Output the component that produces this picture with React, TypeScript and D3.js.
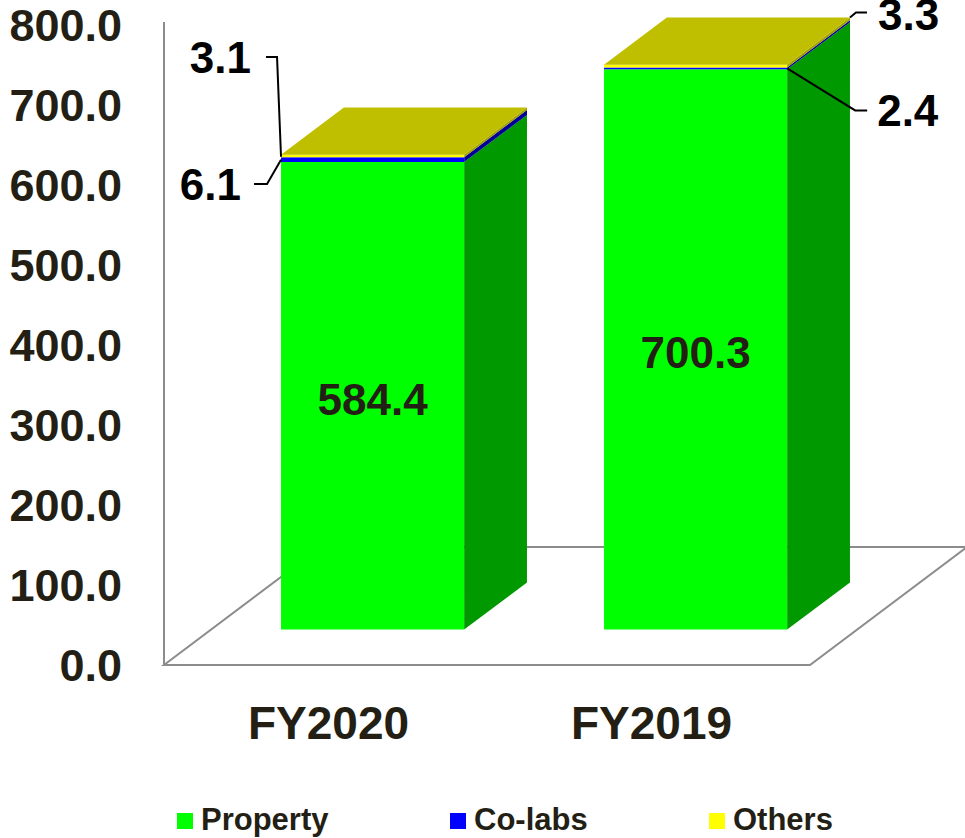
import React from "react";
import * as d3 from "d3";

const categories = ["FY2020", "FY2019"];
const seriesNames = ["Property", "Co-labs", "Others"];
const property = [584.4, 700.3];
const colabs = [6.1, 2.4];
const others = [3.1, 3.3];
const yTicks = [0, 100, 200, 300, 400, 500, 600, 700, 800];

const W = 965;
const H = 838;
const FONT = "Arial, 'Liberation Sans', Helvetica, sans-serif";
const TXT = "#231f14";

const frontColors = ["#00ff00", "#0000ff", "#ffff00"];
const sideColors = ["#009900", "#000099", "#a0a000"];
const topColor = "#bfbf00";

export default function App() {
  const rows = categories.map((c, i) => ({
    cat: c,
    Property: property[i],
    "Co-labs": colabs[i],
    Others: others[i],
  }));
  const stack = d3.stack<any>().keys(seriesNames)(rows);

  // axis / floor geometry
  const floorLeft = 164;
  const floorRight = 810;
  const y = d3.scaleLinear().domain([0, 800]).range([665, 25]);
  const floorDx = 157;
  const floorDy = -118;
  const frontFrac = 0.3;
  const barFrac = 0.4;
  const fdx = floorDx * frontFrac;
  const fdy = floorDy * frontFrac;
  const bdx = floorDx * barFrac;
  const bdy = floorDy * barFrac;

  const x = d3
    .scaleBand()
    .domain(categories)
    .range([floorLeft, floorRight])
    .paddingInner(0.433)
    .paddingOuter(0.2165);

  const yF = (v: number) => y(v) + fdy;
  const bx0 = (c: string) => (x(c) as number) + fdx;
  const bx1 = (c: string) => (x(c) as number) + fdx + x.bandwidth();

  const line = d3.line();

  const bars = categories.map((c, i) => {
    const x0 = bx0(c);
    const x1 = bx1(c);
    const segs = stack.map((s, k) => {
      const [v0, v1] = s[i];
      const front = `M${x0},${yF(v1)}H${x1}V${yF(v0)}H${x0}Z`;
      const side = line([
        [x1, yF(v0)],
        [x1 + bdx, yF(v0) + bdy],
        [x1 + bdx, yF(v1) + bdy],
        [x1, yF(v1)],
      ]) + "Z";
      return (
        <g key={k}>
          <path d={front} fill={frontColors[k]} />
          <path d={side} fill={sideColors[k]} />
        </g>
      );
    });
    const topV = stack[stack.length - 1][i][1];
    const yt = yF(topV);
    const top =
      line([
        [x0, yt],
        [x1, yt],
        [x1 + bdx, yt + bdy],
        [x0 + bdx, yt + bdy],
      ]) + "Z";
    return (
      <g key={c}>
        {segs}
        <path d={top} fill={topColor} />
      </g>
    );
  });

  // leader annotations
  const annots: any[] = [];
  {
    // FY2020: labels on the left
    const c = categories[0];
    const x0 = bx0(c);
    const topV = stack[2][0][1];
    const colMid = (stack[1][0][0] + stack[1][0][1]) / 2;
    const ax1 = x0, ay1 = yF(topV) + 2;
    annots.push({
      pts: [[ax1 - 15, 57], [ax1 - 4, 57], [ax1, ay1]],
      text: others[0].toFixed(1),
      tx: ax1 - 30,
      ty: 57,
      anchor: "end",
    });
    const ay2 = yF(colMid);
    annots.push({
      pts: [[ax1 - 27, 184], [ax1 - 14, 184], [ax1, ay2]],
      text: colabs[0].toFixed(1),
      tx: ax1 - 40,
      ty: 184,
      anchor: "end",
    });
  }
  {
    // FY2019: labels on the right
    const c = categories[1];
    const x1 = bx1(c);
    const topV = stack[2][1][1];
    const colMid = (stack[1][1][0] + stack[1][1][1]) / 2;
    const px = x1 + bdx, py = yF(topV) + bdy;
    annots.push({
      pts: [[px, py], [px + 6, py - 5], [px + 17, py - 5]],
      text: others[1].toFixed(1),
      tx: px + 28,
      ty: py - 3,
      anchor: "start",
    });
    const qy = yF(colMid);
    annots.push({
      pts: [[x1, qy], [x1 + 68, qy + 42], [x1 + 80, qy + 42]],
      text: colabs[1].toFixed(1),
      tx: x1 + 90,
      ty: qy + 42,
      anchor: "start",
    });
  }

  const legendX = [177, 450, 709];

  return (
    <svg width={W} height={H} style={{ display: "block", position: "absolute", left: 0, top: 0 }}>
      <rect width={W} height={H} fill="#ffffff" />
      {/* floor */}
      <path
        d={
          line([
            [floorLeft, y(0)],
            [floorRight, y(0)],
            [floorRight + floorDx, y(0) + floorDy],
            [floorLeft + floorDx, y(0) + floorDy],
          ]) + "Z"
        }
        fill="none"
        stroke="#8c8c8c"
        strokeWidth={2}
      />
      {/* axis line */}
      <line x1={floorLeft} x2={floorLeft} y1={y(0)} y2={y(800) - 3} stroke="#8c8c8c" strokeWidth={2} />
      {/* y tick labels */}
      {yTicks.map((t) => (
        <text
          key={t}
          x={122}
          y={y(t)}
          dy="0.36em"
          textAnchor="end"
          fontFamily={FONT}
          fontWeight="bold"
          fontSize={45}
          fill={TXT}
        >
          {t.toFixed(1)}
        </text>
      ))}
      {bars}
      {/* property value labels */}
      {categories.map((c, i) => (
        <text
          key={c}
          x={(bx0(c) + bx1(c)) / 2}
          y={(yF(stack[0][i][0]) + yF(stack[0][i][1])) / 2 + 3}
          dy="0.36em"
          textAnchor="middle"
          fontFamily={FONT}
          fontWeight="bold"
          fontSize={44}
          fill={TXT}
        >
          {property[i].toFixed(1)}
        </text>
      ))}
      {/* leaders */}
      {annots.map((a, i) => (
        <g key={i}>
          <path d={line(a.pts) as string} fill="none" stroke="#000" strokeWidth={2} />
          <text
            x={a.tx}
            y={a.ty}
            dy="0.36em"
            textAnchor={a.anchor}
            fontFamily={FONT}
            fontWeight="bold"
            fontSize={44}
            fill="#000"
          >
            {a.text}
          </text>
        </g>
      ))}
      {/* category labels */}
      {categories.map((c) => (
        <text
          key={c}
          x={(x(c) as number) + x.bandwidth() / 2 + 3}
          y={722}
          dy="0.36em"
          textAnchor="middle"
          fontFamily={FONT}
          fontWeight="bold"
          fontSize={46}
          fill={TXT}
        >
          {c}
        </text>
      ))}
      {/* legend */}
      {seriesNames.map((s, k) => (
        <g key={s}>
          <rect x={legendX[k]} y={813} width={16} height={16} fill={frontColors[k]} />
          <text
            x={legendX[k] + 24}
            y={830}
            fontFamily={FONT}
            fontWeight="bold"
            fontSize={31}
            fill={TXT}
          >
            {s}
          </text>
        </g>
      ))}
    </svg>
  );
}
